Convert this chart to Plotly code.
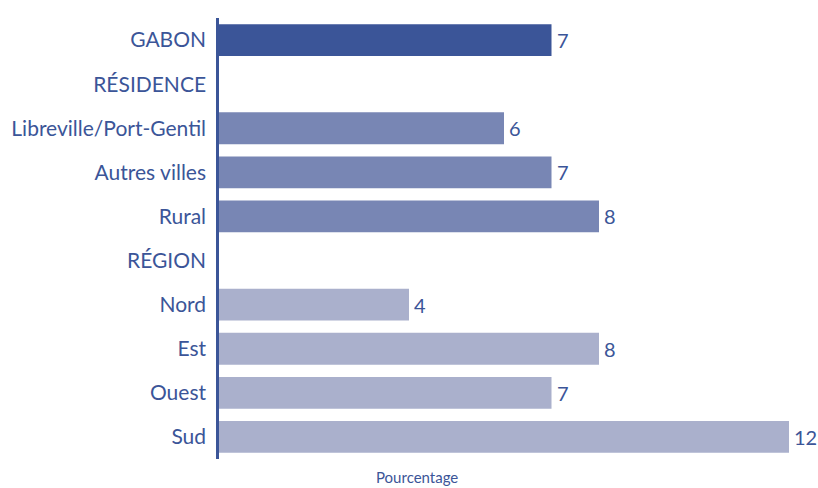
import plotly.graph_objects as go

categories = ["GABON", "RÉSIDENCE", "Libreville/Port-Gentil", "Autres villes", "Rural",
              "RÉGION", "Nord", "Est", "Ouest", "Sud"]
values = [7, None, 6, 7, 8, None, 4, 8, 7, 12]
groups = ["total", "head", "res", "res", "res", "head", "reg", "reg", "reg", "reg"]
group_colors = {"total": "#3b5598", "head": "#3b5598", "res": "#7886b4", "reg": "#aab0cc"}
text_color = "#3b5598"
font_family = "Lato, 'Open Sans', sans-serif"

fig = go.Figure()
fig.add_trace(go.Bar(
    y=categories, x=values, orientation="h",
    marker=dict(color=[group_colors[g] for g in groups], line=dict(width=0)),
    width=0.72, hoverinfo="skip",
))

for c, v in zip(categories, values):
    if v is not None:
        fig.add_annotation(x=v, y=c, text=str(v), showarrow=False, xanchor="left",
                           xshift=3, font=dict(family=font_family, size=20, color=text_color))

fig.add_annotation(x=0.337, y=0.0, xref="paper", yref="paper", yshift=-7,
                   text="Pourcentage", showarrow=False, xanchor="center", yanchor="top",
                   font=dict(family=font_family, size=15, color=text_color))

fig.update_layout(
    width=818, height=488,
    margin=dict(l=219, r=10, t=18, b=29, autoexpand=False),
    paper_bgcolor="white", plot_bgcolor="white",
    showlegend=False,
    font=dict(family=font_family, color=text_color),
    xaxis=dict(range=[0, 12.4], showgrid=False, zeroline=False, showticklabels=False,
               showline=False, ticks="", automargin=False),
    yaxis=dict(categoryorder="array", categoryarray=categories,
               range=[9.5, -0.5], showgrid=False, zeroline=False, automargin=False,
               showline=True, linecolor=text_color, linewidth=2.5, ticks="",
               ticklabelstandoff=6,
               tickfont=dict(family=font_family, size=21, color=text_color)),
)

fig.write_html("out.html", config={"displayModeBar": False},
               post_script="document.body.style.margin='0';document.body.style.overflow='hidden';")
